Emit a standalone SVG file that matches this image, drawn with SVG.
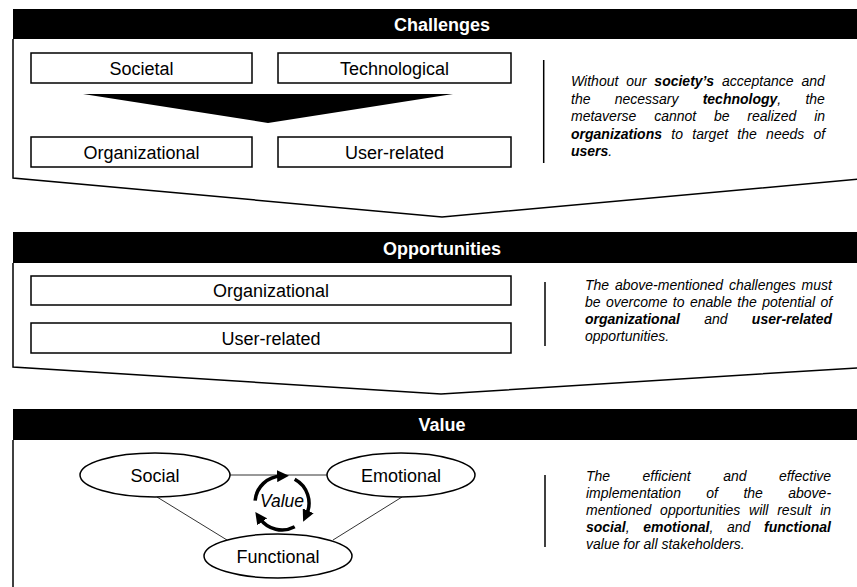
<svg xmlns="http://www.w3.org/2000/svg" width="857" height="587" viewBox="0 0 857 587">
<style>
  .hdr { fill: #000; }
  .hdrtxt { font-family: "Liberation Sans", Arial, sans-serif; font-size: 18px; font-weight: bold; fill: #fff; text-anchor: middle; }
  .outline { fill: none; stroke: #000; stroke-width: 1.5; }
  .box { fill: #fff; stroke: #000; stroke-width: 1.5; }
  .lbl { font-family: "Liberation Sans", Arial, sans-serif; font-size: 18px; fill: #000; text-anchor: middle; }
  .desc { font-family: "Liberation Sans", Arial, sans-serif; font-size: 14px; font-style: italic; fill: #000; }
  .b { font-weight: bold; }
  .div { stroke: #000; stroke-width: 1.5; }
  .conn { stroke: #333; stroke-width: 1; fill: none; }
  .cyc { fill: none; stroke: #000; stroke-width: 3.5; }
</style>
<defs>
  <marker id="ah" markerUnits="userSpaceOnUse" markerWidth="12" markerHeight="12" refX="4" refY="6" orient="auto">
    <path d="M0,0 L12,6 L0,12 z" fill="#000"/>
  </marker>
</defs>
<rect width="857" height="587" fill="#fff"/>

<!-- Challenges section -->
<g id="challenges">
  <rect class="hdr" x="13" y="9" width="858" height="30"/>
  <text class="hdrtxt" x="442" y="30.5">Challenges</text>
  <path class="outline" d="M13,39 V178 L442,217 L871,178"/>
  <line class="div" x1="543.7" y1="60" x2="543.7" y2="163"/>
  <text class="desc" x="571" y="86" style="word-spacing:4px">Without our <tspan class="b">society’s</tspan> acceptance and</text>
  <text class="desc" x="571" y="103.5" style="word-spacing:20.3px">the necessary <tspan class="b">technology</tspan>, the</text>
  <text class="desc" x="571" y="121" style="word-spacing:13.9px">metaverse cannot be realized in</text>
  <text class="desc" x="571" y="138.5" style="word-spacing:5.4px"><tspan class="b">organizations</tspan> to target the needs of</text>
  <text class="desc" x="571" y="156"><tspan class="b">users</tspan>.</text>
</g>
<g id="ch-societal">
  <rect class="box" x="31" y="53" width="221" height="30"/>
  <text class="lbl" x="141.5" y="74.5">Societal</text>
</g>
<g id="ch-technological">
  <rect class="box" x="278" y="53" width="233" height="30"/>
  <text class="lbl" x="394.5" y="74.5">Technological</text>
</g>
<g id="ch-arrow">
  <polygon points="83,94 453,94 268,123" fill="#000"/>
</g>
<g id="ch-organizational">
  <rect class="box" x="31" y="137" width="221" height="30"/>
  <text class="lbl" x="141.5" y="158.5">Organizational</text>
</g>
<g id="ch-userrelated">
  <rect class="box" x="278" y="137" width="233" height="30"/>
  <text class="lbl" x="394.5" y="158.5">User-related</text>
</g>

<!-- Opportunities section -->
<g id="opportunities">
  <rect class="hdr" x="13" y="232" width="858" height="31"/>
  <text class="hdrtxt" x="442" y="254.5">Opportunities</text>
  <path class="outline" d="M13,263 V367 L441,394 L871,367"/>
  <line class="div" x1="545" y1="282" x2="545" y2="346"/>
  <text class="desc" x="585" y="289.5" style="word-spacing:1.9px">The above-mentioned challenges must</text>
  <text class="desc" x="585" y="306.7" style="word-spacing:1.5px">be overcome to enable the potential of</text>
  <text class="desc" x="585" y="323.9" style="word-spacing:20.4px"><tspan class="b">organizational</tspan> and <tspan class="b">user-related</tspan></text>
  <text class="desc" x="585" y="341.1">opportunities.</text>
</g>
<g id="op-organizational">
  <rect class="box" x="31" y="276" width="480" height="29"/>
  <text class="lbl" x="271" y="297">Organizational</text>
</g>
<g id="op-userrelated">
  <rect class="box" x="31" y="323" width="480" height="30"/>
  <text class="lbl" x="271" y="344.5">User-related</text>
</g>

<!-- Value section -->
<g id="value">
  <rect class="hdr" x="13" y="409" width="858" height="31"/>
  <text class="hdrtxt" x="442" y="431">Value</text>
  <path class="outline" d="M13,440 V590"/>
  <line class="div" x1="545" y1="475" x2="545" y2="547"/>
  <text class="desc" x="586" y="481" style="word-spacing:28.5px">The efficient and effective</text>
  <text class="desc" x="586" y="497.9" style="word-spacing:21.5px">implementation of the above-</text>
  <text class="desc" x="586" y="514.8" style="word-spacing:4.85px">mentioned opportunities will result in</text>
  <text class="desc" x="586" y="531.7" style="word-spacing:9.8px"><tspan class="b">social</tspan>, <tspan class="b">emotional</tspan>, and <tspan class="b">functional</tspan></text>
  <text class="desc" x="586" y="548.6">value for all stakeholders.</text>
</g>

<g id="connectors">
  <line class="conn" x1="230" y1="475" x2="327" y2="475"/>
  <line class="conn" x1="157" y1="497" x2="227" y2="540"/>
  <line class="conn" x1="402" y1="497" x2="333" y2="540"/>
</g>

<g id="v-social">
  <ellipse class="box" cx="155" cy="475" rx="75" ry="22"/>
  <text class="lbl" x="155" y="481.5">Social</text>
</g>
<g id="v-emotional">
  <ellipse class="box" cx="401" cy="475" rx="74" ry="22"/>
  <text class="lbl" x="401" y="481.5">Emotional</text>
</g>
<g id="v-functional">
  <ellipse class="box" cx="278" cy="556" rx="74" ry="22"/>
  <text class="lbl" x="278" y="562.5">Functional</text>
</g>
<g id="v-cycle">
  <path class="cyc" d="M255.1,500.6 A27,27 0 0 1 281.1,476" marker-end="url(#ah)"/>
  <path class="cyc" d="M294.7,479.2 A27,27 0 0 1 306.5,514.4" marker-end="url(#ah)"/>
  <path class="cyc" d="M294.7,526.8 A27,27 0 0 1 259.9,518.5" marker-end="url(#ah)"/>
  <text x="282" y="507" font-family="Liberation Sans, Arial, sans-serif" font-size="17.5" font-style="italic" text-anchor="middle">Value</text>
</g>
</svg>
